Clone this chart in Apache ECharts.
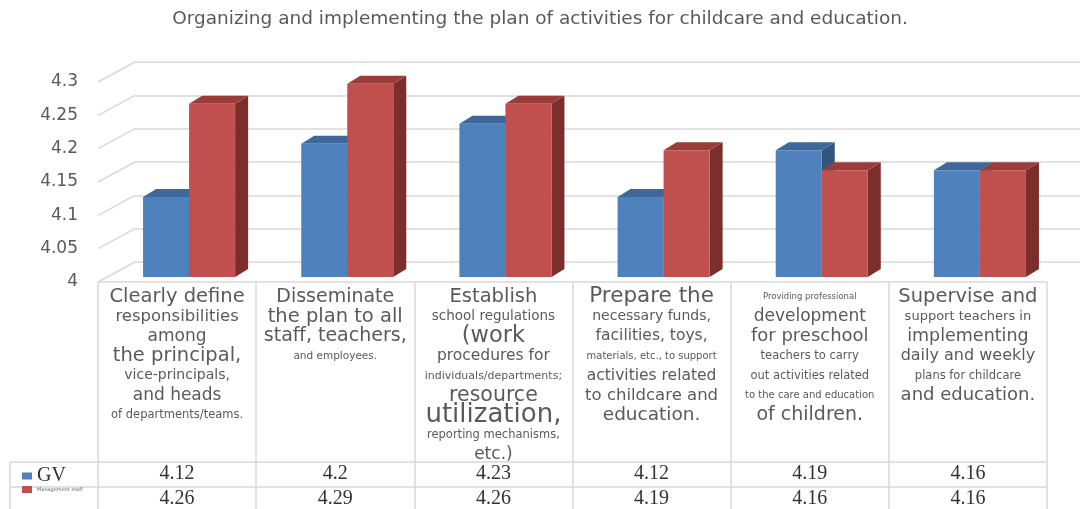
<!DOCTYPE html>
<html><head><meta charset="utf-8">
<script src="https://cdn.jsdelivr.net/npm/echarts@6/dist/echarts.min.js"></script>
<style>html,body{margin:0;padding:0;background:#fff}#c{width:1080px;height:509px}</style>
</head><body><div id="c"></div>
<script>
// ---------- data ----------
const chartTitle = 'Organizing and implementing the plan of activities for childcare and education.';
const categories = [
  'Clearly define\nresponsibilities\namong\nthe principal,\nvice-principals,\nand heads\nof departments/teams.',
  'Disseminate\nthe plan to all\nstaff, teachers,\nand employees.',
  'Establish\nschool regulations\n(work\nprocedures for\nindividuals/departments;\nresource\nutilization,\nreporting mechanisms,\netc.)',
  'Prepare the\nnecessary funds,\nfacilities, toys,\nmaterials, etc., to support\nactivities related\nto childcare and\neducation.',
  'Providing professional\ndevelopment\nfor preschool\nteachers to carry\nout activities related\nto the care and education\nof children.',
  'Supervise and\nsupport teachers in\nimplementing\ndaily and weekly\nplans for childcare\nand education.'
];
const seriesNames = ['GV', 'Management staff'];
const gvValues = [4.12, 4.2, 4.23, 4.12, 4.19, 4.16];
const mgmtValues = [4.26, 4.29, 4.26, 4.19, 4.16, 4.16];
const yTicks = [4, 4.05, 4.1, 4.15, 4.2, 4.25, 4.3];

// ---------- style ----------
const lineSizes = [
  [19.5, 16.5, 17, 19.5, 14, 17, 11.5],
  [19, 19.5, 19, 10.5],
  [19.5, 13.5, 22.5, 15.5, 11, 20.5, 26, 11.5, 17],
  [21.5, 14, 15.5, 10, 15.5, 16.5, 18.5],
  [8.5, 17, 18, 11.5, 11.5, 10, 19],
  [19.5, 13, 17.5, 16, 11.5, 18]
];
const TEXT_GRAY = '#5a5a5a';
const LINE_GRAY = '#d9d9d9';
const FACE = {dx: 12, dy: -5};
const DEPTH = {dx: 13, dy: -8};
const WALL = {dx: -37, dy: 20};
const BAR_FRAC = 0.291;
const PALETTE = [
  {front: '#4F81BD', top: '#3D6899', side: '#32557F'},
  {front: '#C0504D', top: '#9A3D3A', side: '#7B2E2C'}
];
const TABLE_ROW_Y = [474, 499];
const yMin = yTicks[0], yMax = yTicks[yTicks.length - 1];

const rich = {};
lineSizes.flat().forEach(s => {
  rich['f' + Math.round(s * 10)] = {fontSize: s, lineHeight: 19.7, fontFamily: 'DejaVu Sans', color: TEXT_GRAY};
});
function catFormatter(value, idx) {
  const sizes = lineSizes[idx] || [];
  return value.split('\n').map((ln, j) => '{f' + Math.round((sizes[j] || 14) * 10) + '|' + ln + '}').join('\n');
}

function makeRender(k) {
  return function (params, api) {
    const i = api.value(0), v = api.value(1);
    const b = api.coord([i, yMin]);
    const t = api.coord([i, v]);
    const w = api.size([1, 0])[0] * BAR_FRAC;
    const x0 = b[0] + FACE.dx + (k === 0 ? -w : 0);
    const x1 = x0 + w;
    const yb = b[1] + FACE.dy, yt = t[1] + FACE.dy;
    const c = PALETTE[k];
    return {type: 'group', children: [
      {type: 'polygon', shape: {points: [[x1, yt], [x1 + DEPTH.dx, yt + DEPTH.dy], [x1 + DEPTH.dx, yb + DEPTH.dy], [x1, yb]]}, style: {fill: c.side}},
      {type: 'polygon', shape: {points: [[x0, yt], [x1, yt], [x1 + DEPTH.dx, yt + DEPTH.dy], [x0 + DEPTH.dx, yt + DEPTH.dy]]}, style: {fill: c.top}},
      {type: 'rect', shape: {x: x0, y: yt, width: w, height: yb - yt}, style: {fill: c.front}},
      {type: 'text', x: b[0], y: TABLE_ROW_Y[k], style: {text: String(v), align: 'center', verticalAlign: 'middle', font: '20px "Liberation Serif"', fill: '#333'}}
    ]};
  };
}

function renderWall(params, api) {
  const p = api.coord([0, api.value(0)]);
  return {type: 'line', shape: {x1: p[0], y1: p[1], x2: p[0] + WALL.dx, y2: p[1] + WALL.dy}, style: {stroke: LINE_GRAY, lineWidth: 1.5}};
}

const chart = echarts.init(document.getElementById('c'), null, {renderer: 'canvas'});
chart.setOption({
  animation: false,
  backgroundColor: '#fff',
  title: {text: chartTitle, left: 'center', top: 5, textStyle: {fontFamily: 'DejaVu Sans', fontSize: 18.5, fontWeight: 'normal', color: '#595959'}},
  legend: {
    orient: 'vertical', left: 17, top: 461, itemWidth: 10, itemHeight: 7, itemGap: 0, icon: 'rect',
    selectedMode: false, data: seriesNames,
    formatter: n => n === seriesNames[0] ? '{g|' + n + '}' : '{m|' + n + '}',
    textStyle: {rich: {
      g: {fontFamily: 'Liberation Serif', fontSize: 20, color: '#333', lineHeight: 25},
      m: {fontFamily: 'DejaVu Sans', fontSize: 5, color: '#666', lineHeight: 25}
    }}
  },
  grid: [
    {left: 98, right: 33, top: 82, bottom: 227},
    {left: 135, right: 0, top: 62, bottom: 247}
  ],
  xAxis: [
    {type: 'category', gridIndex: 0, data: categories,
      axisLine: {show: true, lineStyle: {color: LINE_GRAY, width: 1.5}},
      axisTick: {show: true, inside: false, length: 227, interval: 0, lineStyle: {color: LINE_GRAY, width: 1.5}},
      axisLabel: {interval: 0, margin: 5, formatter: catFormatter, rich: rich, overflow: 'none', hideOverlap: false},
      splitLine: {show: false}},
    {type: 'value', gridIndex: 1, min: 0, max: 1, show: false}
  ],
  yAxis: [
    {type: 'value', gridIndex: 0, min: yMin, max: yMax, interval: 0.05,
      axisLine: {show: false}, axisTick: {show: false}, splitLine: {show: false},
      axisLabel: {margin: 20, color: TEXT_GRAY, fontFamily: 'DejaVu Sans', fontSize: 17, lineHeight: 24, padding: [6, 0, 0, 0], formatter: v => String(+v.toFixed(2))}},
    {type: 'value', gridIndex: 1, min: yMin, max: yMax, interval: 0.05,
      axisLine: {show: false}, axisTick: {show: false}, axisLabel: {show: false},
      splitLine: {show: true, lineStyle: {color: LINE_GRAY, width: 1.5}}}
  ],
  graphic: [
    {type: 'line', shape: {x1: 10, y1: 462, x2: 1047, y2: 462}, style: {stroke: LINE_GRAY, lineWidth: 1.5}},
    {type: 'line', shape: {x1: 10, y1: 487, x2: 1047, y2: 487}, style: {stroke: LINE_GRAY, lineWidth: 1.5}},
    {type: 'line', shape: {x1: 10, y1: 462, x2: 10, y2: 509}, style: {stroke: LINE_GRAY, lineWidth: 1.5}}
  ],
  series: [
    {type: 'custom', xAxisIndex: 1, yAxisIndex: 1, silent: true, renderItem: renderWall, data: yTicks.map(v => [v]), encode: {y: 0}},
    {type: 'custom', name: seriesNames[0], xAxisIndex: 0, yAxisIndex: 0, itemStyle: {color: PALETTE[0].front},
      renderItem: makeRender(0), data: gvValues.map((v, i) => [i, v]), encode: {x: 0, y: 1}},
    {type: 'custom', name: seriesNames[1], xAxisIndex: 0, yAxisIndex: 0, itemStyle: {color: PALETTE[1].front},
      renderItem: makeRender(1), data: mgmtValues.map((v, i) => [i, v]), encode: {x: 0, y: 1}}
  ]
});
</script>
</body></html>
